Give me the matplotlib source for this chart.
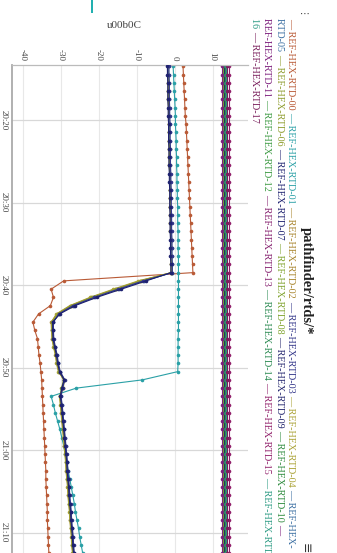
#!/usr/bin/env python3
"""
pathfinder/rtds/* panel: REF-HEX RTD probe temperatures, 20:13 - 21:13.

The reference capture is the dashboard turned a quarter turn clockwise, so the
chart is drawn sideways: temperature runs across the top, time runs down the
page and every text reads top-to-bottom.
"""
import matplotlib
matplotlib.use("Agg")
import matplotlib.dates as mdates
import matplotlib.pyplot as plt
import numpy as np
import pandas as pd
from matplotlib.font_manager import FontProperties
from matplotlib.patches import Rectangle
from matplotlib.transforms import IdentityTransform

W, H = 337, 553  # output size in pixels (dpi 100)

# ---------------------------------------------------------------- data
TIMES = pd.date_range("2024-05-14 20:13:30", periods=61, freq="min")

SERIES = [f"REF-HEX-RTD-{i:02d}" for i in range(18)]

COLORS = [
    "#b95a36", "#2aa0a6", "#a8842c", "#34378a", "#aaa236", "#3b6fa2",
    "#8e9c2e", "#1e2170", "#7fa22c", "#24266e", "#2e8b3e", "#7d1f7d",
    "#3c9a42", "#86216f", "#2b8a52", "#911f6a", "#2a9a82", "#7a1f5c",
]

# probe on the hot side: slow warm-up, then the 20:39 plunge
RTD_00 = [2.2, 2.3, 2.4, 2.5, 2.6, 2.7, 2.8, 3.0, 3.1, 3.2, 3.3, 3.4, 3.5,
          3.6, 3.7, 3.8, 3.9, 4.0, 4.1, 4.2, 4.3, 4.4, 4.5, 4.6, 4.7, 4.8,
          -29.2, -32.5, -31.9, -32.7, -35.8, -37.3,
          -36.8, -36.1, -35.9, -35.7, -35.4, -35.2, -35.0, -34.9, -34.8,
          -34.7, -34.6, -34.5, -34.4, -34.3, -34.2, -34.1, -34.0, -33.9,
          -33.9, -33.8, -33.7, -33.6, -33.5, -33.5, -33.4, -33.3, -33.2,
          -33.1, -33.0]
# late drop at 20:51
RTD_01 = [-0.4, -0.3, -0.2, -0.1, 0.0, 0.1, 0.2, 0.2, 0.3, 0.4, 0.4, 0.5,
          0.5, 0.6, 0.6, 0.7, 0.7, 0.8, 0.8, 0.8, 0.9, 0.9, 0.9, 1.0, 1.0,
          1.0, 1.0, 1.0, 1.0, 1.0, 1.0, 1.0, 1.0, 0.9, 0.9, 0.9, 0.9, 0.8,
          -8.5, -25.9, -32.5,
          -31.9, -31.4, -30.8, -30.2, -29.7, -29.2, -28.8, -28.4, -28.0,
          -27.6, -27.2, -26.8, -26.4, -26.1, -25.7, -25.3, -25.0, -24.6,
          -24.2, -23.9]
# the bundle that drops together at 20:39
RTD_02 = [-1.8, -1.8, -1.7, -1.7, -1.7, -1.6, -1.6, -1.5, -1.5, -1.5, -1.4,
          -1.4, -1.4, -1.3, -1.3, -1.2, -1.2, -1.2, -1.1, -1.1, -1.1, -1.0,
          -1.0, -1.0, -0.9, -0.9,
          -9.2, -15.7, -22.0, -27.4, -31.0, -32.5,
          -32.4, -32.2, -31.8, -31.3, -31.0, -30.5, -29.2, -29.4, -30.2,
          -30.0, -29.8, -29.6, -29.4, -29.2, -29.0, -28.8, -28.6, -28.5,
          -28.3, -28.1, -28.0, -27.8, -27.6, -27.5, -27.3, -27.1, -27.0,
          -26.8, -26.6]
RTD_03 = [-1.5, -1.5, -1.4, -1.4, -1.4, -1.3, -1.3, -1.2, -1.2, -1.2, -1.1,
          -1.1, -1.1, -1.0, -1.0, -0.9, -0.9, -0.9, -0.8, -0.8, -0.8, -0.7,
          -0.7, -0.7, -0.6, -0.6,
          -8.3, -14.8, -21.2, -26.8, -30.5, -31.9,
          -31.9, -31.8, -31.4, -30.9, -30.6, -30.1, -28.9, -29.5, -29.9,
          -29.6, -29.4, -29.2, -29.0, -28.8, -28.6, -28.4, -28.2, -28.1,
          -27.9, -27.7, -27.6, -27.4, -27.2, -27.1, -26.9, -26.7, -26.6,
          -26.4, -26.2]
RTD_04 = [-1.7, -1.7, -1.6, -1.6, -1.6, -1.5, -1.5, -1.4, -1.4, -1.4, -1.3,
          -1.3, -1.3, -1.2, -1.2, -1.1, -1.1, -1.1, -1.0, -1.0, -1.0, -0.9,
          -0.9, -0.9, -0.8, -0.8,
          -9.6, -16.1, -22.3, -27.6, -31.1, -32.4,
          -32.4, -32.3, -31.9, -31.4, -31.1, -30.6, -29.0, -29.3, -30.3,
          -30.1, -29.9, -29.7, -29.5, -29.3, -29.1, -28.9, -28.7, -28.6,
          -28.4, -28.2, -28.1, -27.9, -27.7, -27.6, -27.4, -27.2, -27.1,
          -26.9, -26.7]
RTD_05 = [-1.6, -1.6, -1.5, -1.5, -1.5, -1.4, -1.4, -1.3, -1.3, -1.3, -1.2,
          -1.2, -1.2, -1.1, -1.1, -1.0, -1.0, -1.0, -0.9, -0.9, -0.9, -0.8,
          -0.8, -0.8, -0.7, -0.7,
          -8.0, -14.6, -21.0, -26.6, -30.4, -32.0,
          -32.0, -31.9, -31.5, -31.0, -30.7, -30.2, -29.0, -29.6, -30.0,
          -29.7, -29.5, -29.3, -29.1, -28.9, -28.7, -28.5, -28.3, -28.2,
          -28.0, -27.8, -27.7, -27.5, -27.3, -27.2, -27.0, -26.8, -26.7,
          -26.5, -26.3]
RTD_06 = [-1.8, -1.8, -1.7, -1.7, -1.7, -1.6, -1.6, -1.5, -1.5, -1.5, -1.4,
          -1.4, -1.4, -1.3, -1.3, -1.2, -1.2, -1.2, -1.1, -1.1, -1.1, -1.0,
          -1.0, -1.0, -0.9, -0.9,
          -8.9, -15.4, -21.8, -27.2, -30.8, -32.3,
          -32.2, -32.1, -31.7, -31.2, -30.9, -30.4, -29.2, -29.8, -30.2,
          -29.9, -29.7, -29.5, -29.3, -29.1, -28.9, -28.7, -28.5, -28.4,
          -28.2, -28.0, -27.9, -27.7, -27.5, -27.4, -27.2, -27.0, -26.9,
          -26.7, -26.5]
RTD_07 = [-1.9, -1.9, -1.8, -1.8, -1.8, -1.7, -1.7, -1.6, -1.6, -1.6, -1.5,
          -1.5, -1.5, -1.4, -1.4, -1.3, -1.3, -1.3, -1.2, -1.2, -1.2, -1.1,
          -1.1, -1.1, -1.0, -1.0,
          -7.5, -14.0, -20.5, -26.2, -30.2, -32.1,
          -32.1, -32.0, -31.6, -31.1, -30.8, -30.3, -29.1, -29.7, -30.1,
          -29.8, -29.6, -29.4, -29.2, -29.0, -28.8, -28.6, -28.4, -28.3,
          -28.1, -27.9, -27.8, -27.6, -27.4, -27.3, -27.1, -26.9, -26.8,
          -26.6, -26.4]
# probes that never moved (all flat around 13 degC)
RTD_08 = [12.8, 12.8, 12.8, 12.8, 12.8, 12.8, 12.8, 12.8, 12.8, 12.8, 12.8,
          12.8, 12.8, 12.8, 12.8, 12.8, 12.8, 12.8, 12.8, 12.8, 12.8, 12.8,
          12.8, 12.8, 12.8, 12.8, 12.8, 12.8, 12.8, 12.8, 12.8, 12.8, 12.8,
          12.8, 12.8, 12.8, 12.8, 12.8, 12.8, 12.8, 12.8, 12.8, 12.8, 12.8,
          12.8, 12.8, 12.8, 12.8, 12.8, 12.8, 12.8, 12.8, 12.8, 12.8, 12.8,
          12.8, 12.8, 12.8, 12.8, 12.8, 12.8]
RTD_09 = [13.0, 13.0, 13.0, 13.0, 13.0, 13.0, 13.0, 13.0, 13.0, 13.0, 13.0,
          13.0, 13.0, 13.0, 13.0, 13.0, 13.0, 13.0, 13.0, 13.0, 13.0, 13.0,
          13.0, 13.0, 13.0, 13.0, 13.0, 13.0, 13.0, 13.0, 13.0, 13.0, 13.0,
          13.0, 13.0, 13.0, 13.0, 13.0, 13.0, 13.0, 13.0, 13.0, 13.0, 13.0,
          13.0, 13.0, 13.0, 13.0, 13.0, 13.0, 13.0, 13.0, 13.0, 13.0, 13.0,
          13.0, 13.0, 13.0, 13.0, 13.0, 13.0]
RTD_10 = [13.2, 13.2, 13.2, 13.2, 13.2, 13.2, 13.2, 13.2, 13.2, 13.2, 13.2,
          13.2, 13.2, 13.2, 13.2, 13.2, 13.2, 13.2, 13.2, 13.2, 13.2, 13.2,
          13.2, 13.2, 13.2, 13.2, 13.2, 13.2, 13.2, 13.2, 13.2, 13.2, 13.2,
          13.2, 13.2, 13.2, 13.2, 13.2, 13.2, 13.2, 13.2, 13.2, 13.2, 13.2,
          13.2, 13.2, 13.2, 13.2, 13.2, 13.2, 13.2, 13.2, 13.2, 13.2, 13.2,
          13.2, 13.2, 13.2, 13.2, 13.2, 13.2]
RTD_11 = [12.5, 12.5, 12.5, 12.5, 12.5, 12.5, 12.5, 12.5, 12.5, 12.5, 12.5,
          12.5, 12.5, 12.5, 12.5, 12.5, 12.5, 12.5, 12.5, 12.5, 12.5, 12.5,
          12.5, 12.5, 12.5, 12.5, 12.5, 12.5, 12.5, 12.5, 12.5, 12.5, 12.5,
          12.5, 12.5, 12.5, 12.5, 12.5, 12.5, 12.5, 12.5, 12.5, 12.5, 12.5,
          12.5, 12.5, 12.5, 12.5, 12.5, 12.5, 12.5, 12.5, 12.5, 12.5, 12.5,
          12.5, 12.5, 12.5, 12.5, 12.5, 12.5]
RTD_12 = [13.4, 13.4, 13.4, 13.4, 13.4, 13.4, 13.4, 13.4, 13.4, 13.4, 13.4,
          13.4, 13.4, 13.4, 13.4, 13.4, 13.4, 13.4, 13.4, 13.4, 13.4, 13.4,
          13.4, 13.4, 13.4, 13.4, 13.4, 13.4, 13.4, 13.4, 13.4, 13.4, 13.4,
          13.4, 13.4, 13.4, 13.4, 13.4, 13.4, 13.4, 13.4, 13.4, 13.4, 13.4,
          13.4, 13.4, 13.4, 13.4, 13.4, 13.4, 13.4, 13.4, 13.4, 13.4, 13.4,
          13.4, 13.4, 13.4, 13.4, 13.4, 13.4]
RTD_13 = [13.6, 13.6, 13.6, 13.6, 13.6, 13.6, 13.6, 13.6, 13.6, 13.6, 13.6,
          13.6, 13.6, 13.6, 13.6, 13.6, 13.6, 13.6, 13.6, 13.6, 13.6, 13.6,
          13.6, 13.6, 13.6, 13.6, 13.6, 13.6, 13.6, 13.6, 13.6, 13.6, 13.6,
          13.6, 13.6, 13.6, 13.6, 13.6, 13.6, 13.6, 13.6, 13.6, 13.6, 13.6,
          13.6, 13.6, 13.6, 13.6, 13.6, 13.6, 13.6, 13.6, 13.6, 13.6, 13.6,
          13.6, 13.6, 13.6, 13.6, 13.6, 13.6]
RTD_14 = [13.3, 13.3, 13.3, 13.3, 13.3, 13.3, 13.3, 13.3, 13.3, 13.3, 13.3,
          13.3, 13.3, 13.3, 13.3, 13.3, 13.3, 13.3, 13.3, 13.3, 13.3, 13.3,
          13.3, 13.3, 13.3, 13.3, 13.3, 13.3, 13.3, 13.3, 13.3, 13.3, 13.3,
          13.3, 13.3, 13.3, 13.3, 13.3, 13.3, 13.3, 13.3, 13.3, 13.3, 13.3,
          13.3, 13.3, 13.3, 13.3, 13.3, 13.3, 13.3, 13.3, 13.3, 13.3, 13.3,
          13.3, 13.3, 13.3, 13.3, 13.3, 13.3]
RTD_15 = [14.2, 14.2, 14.2, 14.2, 14.2, 14.2, 14.2, 14.2, 14.2, 14.2, 14.2,
          14.2, 14.2, 14.2, 14.2, 14.2, 14.2, 14.2, 14.2, 14.2, 14.2, 14.2,
          14.2, 14.2, 14.2, 14.2, 14.2, 14.2, 14.2, 14.2, 14.2, 14.2, 14.2,
          14.2, 14.2, 14.2, 14.2, 14.2, 14.2, 14.2, 14.2, 14.2, 14.2, 14.2,
          14.2, 14.2, 14.2, 14.2, 14.2, 14.2, 14.2, 14.2, 14.2, 14.2, 14.2,
          14.2, 14.2, 14.2, 14.2, 14.2, 14.2]
RTD_16 = [13.5, 13.5, 13.5, 13.5, 13.5, 13.5, 13.5, 13.5, 13.5, 13.5, 13.5,
          13.5, 13.5, 13.5, 13.5, 13.5, 13.5, 13.5, 13.5, 13.5, 13.5, 13.5,
          13.5, 13.5, 13.5, 13.5, 13.5, 13.5, 13.5, 13.5, 13.5, 13.5, 13.5,
          13.5, 13.5, 13.5, 13.5, 13.5, 13.5, 13.5, 13.5, 13.5, 13.5, 13.5,
          13.5, 13.5, 13.5, 13.5, 13.5, 13.5, 13.5, 13.5, 13.5, 13.5, 13.5,
          13.5, 13.5, 13.5, 13.5, 13.5, 13.5]
RTD_17 = [13.9, 13.9, 13.9, 13.9, 13.9, 13.9, 13.9, 13.9, 13.9, 13.9, 13.9,
          13.9, 13.9, 13.9, 13.9, 13.9, 13.9, 13.9, 13.9, 13.9, 13.9, 13.9,
          13.9, 13.9, 13.9, 13.9, 13.9, 13.9, 13.9, 13.9, 13.9, 13.9, 13.9,
          13.9, 13.9, 13.9, 13.9, 13.9, 13.9, 13.9, 13.9, 13.9, 13.9, 13.9,
          13.9, 13.9, 13.9, 13.9, 13.9, 13.9, 13.9, 13.9, 13.9, 13.9, 13.9,
          13.9, 13.9, 13.9, 13.9, 13.9, 13.9]

VALUES = [RTD_00, RTD_01, RTD_02, RTD_03, RTD_04, RTD_05, RTD_06, RTD_07,
          RTD_08, RTD_09, RTD_10, RTD_11, RTD_12, RTD_13, RTD_14, RTD_15,
          RTD_16, RTD_17]

TEMP_TICKS = [-40, -30, -20, -10, 0, 10]

# legend text wraps like the browser did it (breaks after hyphens)
LEGEND_LINES = [
    [("— REF-HEX-RTD-00 ", 0), ("— REF-HEX-RTD-01 ", 1), ("— REF-HEX-RTD-02 ", 2),
     ("— REF-HEX-RTD-03 ", 3), ("— REF-HEX-RTD-04 ", 4), ("— REF-HEX-", 5)],
    [("RTD-05 ", 5), ("— REF-HEX-RTD-06 ", 6), ("— REF-HEX-RTD-07 ", 7),
     ("— REF-HEX-RTD-08 ", 8), ("— REF-HEX-RTD-09 ", 9), ("— REF-HEX-RTD-10 ", 10),
     ("—", 11)],
    [("REF-HEX-RTD-11 ", 11), ("— REF-HEX-RTD-12 ", 12), ("— REF-HEX-RTD-13 ", 13),
     ("— REF-HEX-RTD-14 ", 14), ("— REF-HEX-RTD-15 ", 15), ("— REF-HEX-RTD-", 16)],
    [("16 ", 16), ("— REF-HEX-RTD-17", 17)],
]
LEGEND_X = [291, 279.5, 267, 255]   # column centres, px from left
LEGEND_TOP = 18                     # px from top

# dark navy traces sit on top of the bundle in the capture
ON_TOP = {3, 7}

for v in VALUES:
    assert len(v) == len(TIMES)

plt.rcParams["font.family"] = ["Liberation Serif", "DejaVu Sans"]
plt.rcParams["axes.unicode_minus"] = False

PX = IdentityTransform()


def at(x, y):
    """image pixel (from top-left) -> display coords"""
    return x, H - y


fig = plt.figure(figsize=(W / 100, H / 100), dpi=100)
fig.patch.set_facecolor("white")

# plot area: x 12..248 px, y 65..bottom (the capture cuts the panel off)
ax = fig.add_axes([12 / W, 0, 236 / W, (H - 65) / H])
times = TIMES.to_numpy()
for i, (vals, col) in enumerate(zip(VALUES, COLORS)):
    ax.plot(vals, times, color=col, lw=0.8, marker="o", ms=2.6, mew=0,
            solid_joinstyle="round", zorder=3 if i in ON_TOP else 2)

ax.set_xlim(-42.8, 19.3)
ax.set_ylim(np.datetime64("2024-05-14T21:12:29"), np.datetime64("2024-05-14T20:13:20"))
ax.xaxis.tick_top()
ax.set_xticks(TEMP_TICKS)
ax.yaxis.set_major_locator(mdates.MinuteLocator(byminute=range(0, 60, 10)))
ax.yaxis.set_major_formatter(mdates.DateFormatter("%H:%M"))
ax.tick_params(axis="x", length=0, pad=3, labelsize=6.5, labelrotation=-90,
               colors="#444444")
ax.tick_params(axis="y", length=0, pad=3, labelsize=6.5, labelrotation=-90,
               colors="#444444")
for lab in ax.get_yticklabels():
    lab.set_va("center")
ax.xaxis.grid(True, color="#e8e8e8", lw=0.8)
ax.yaxis.grid(True, color="#d8d8d8", lw=0.9)
ax.set_axisbelow(True)
for side in ("right", "bottom"):
    ax.spines[side].set_visible(False)
ax.spines["left"].set_color("#aaaaaa")
ax.spines["left"].set_linewidth(1.3)
ax.spines["top"].set_color("#bbbbbb")
ax.spines["top"].set_linewidth(0.9)

# axis title (the escape came through literally in the dashboard)
fig.text(*at(124, 25), "u00b0C", transform=PX, ha="center", va="center",
         fontsize=8, color="#444444")

# title, rotated with the rest of the capture
fig.text(*at(306, 281), "pathfinder/rtds/*", transform=PX, rotation=-90,
         rotation_mode="anchor", ha="center", va="center", fontsize=10.5,
         fontweight="bold", color="#222222")

# multi-coloured legend, laid out segment by segment
renderer = fig.canvas.get_renderer()
prop = FontProperties(family="Liberation Serif", size=7.3)
bar_w = renderer.get_text_width_height_descent("|", prop, ismath=False)[0]


def text_len(s):
    if not s:
        return 0.0
    return renderer.get_text_width_height_descent(s + "|", prop, ismath=False)[0] - bar_w


for x, segments in zip(LEGEND_X, LEGEND_LINES):
    done = ""
    for text, idx in segments:
        y = LEGEND_TOP + text_len(done)
        fig.text(*at(x, y), text, transform=PX, rotation=-90,
                 rotation_mode="anchor", ha="left", va="center",
                 fontproperties=prop, color=COLORS[idx])
        done += text

# bits of dashboard chrome caught in the capture
fig.patches.append(Rectangle(at(90.7, 13), 2.6, 13, transform=PX,
                             color="#22b0b0", lw=0))
fig.text(*at(305, 14), "⋯", transform=PX, ha="center", va="center",
         fontsize=7, color="#333333", family="DejaVu Sans")
fig.text(*at(305, 548), "≡", transform=PX, rotation=-90, ha="center",
         va="center", fontsize=9, color="#333333", family="DejaVu Sans")

fig.savefig("out.png", dpi=100)
print("Saved: out.png")
